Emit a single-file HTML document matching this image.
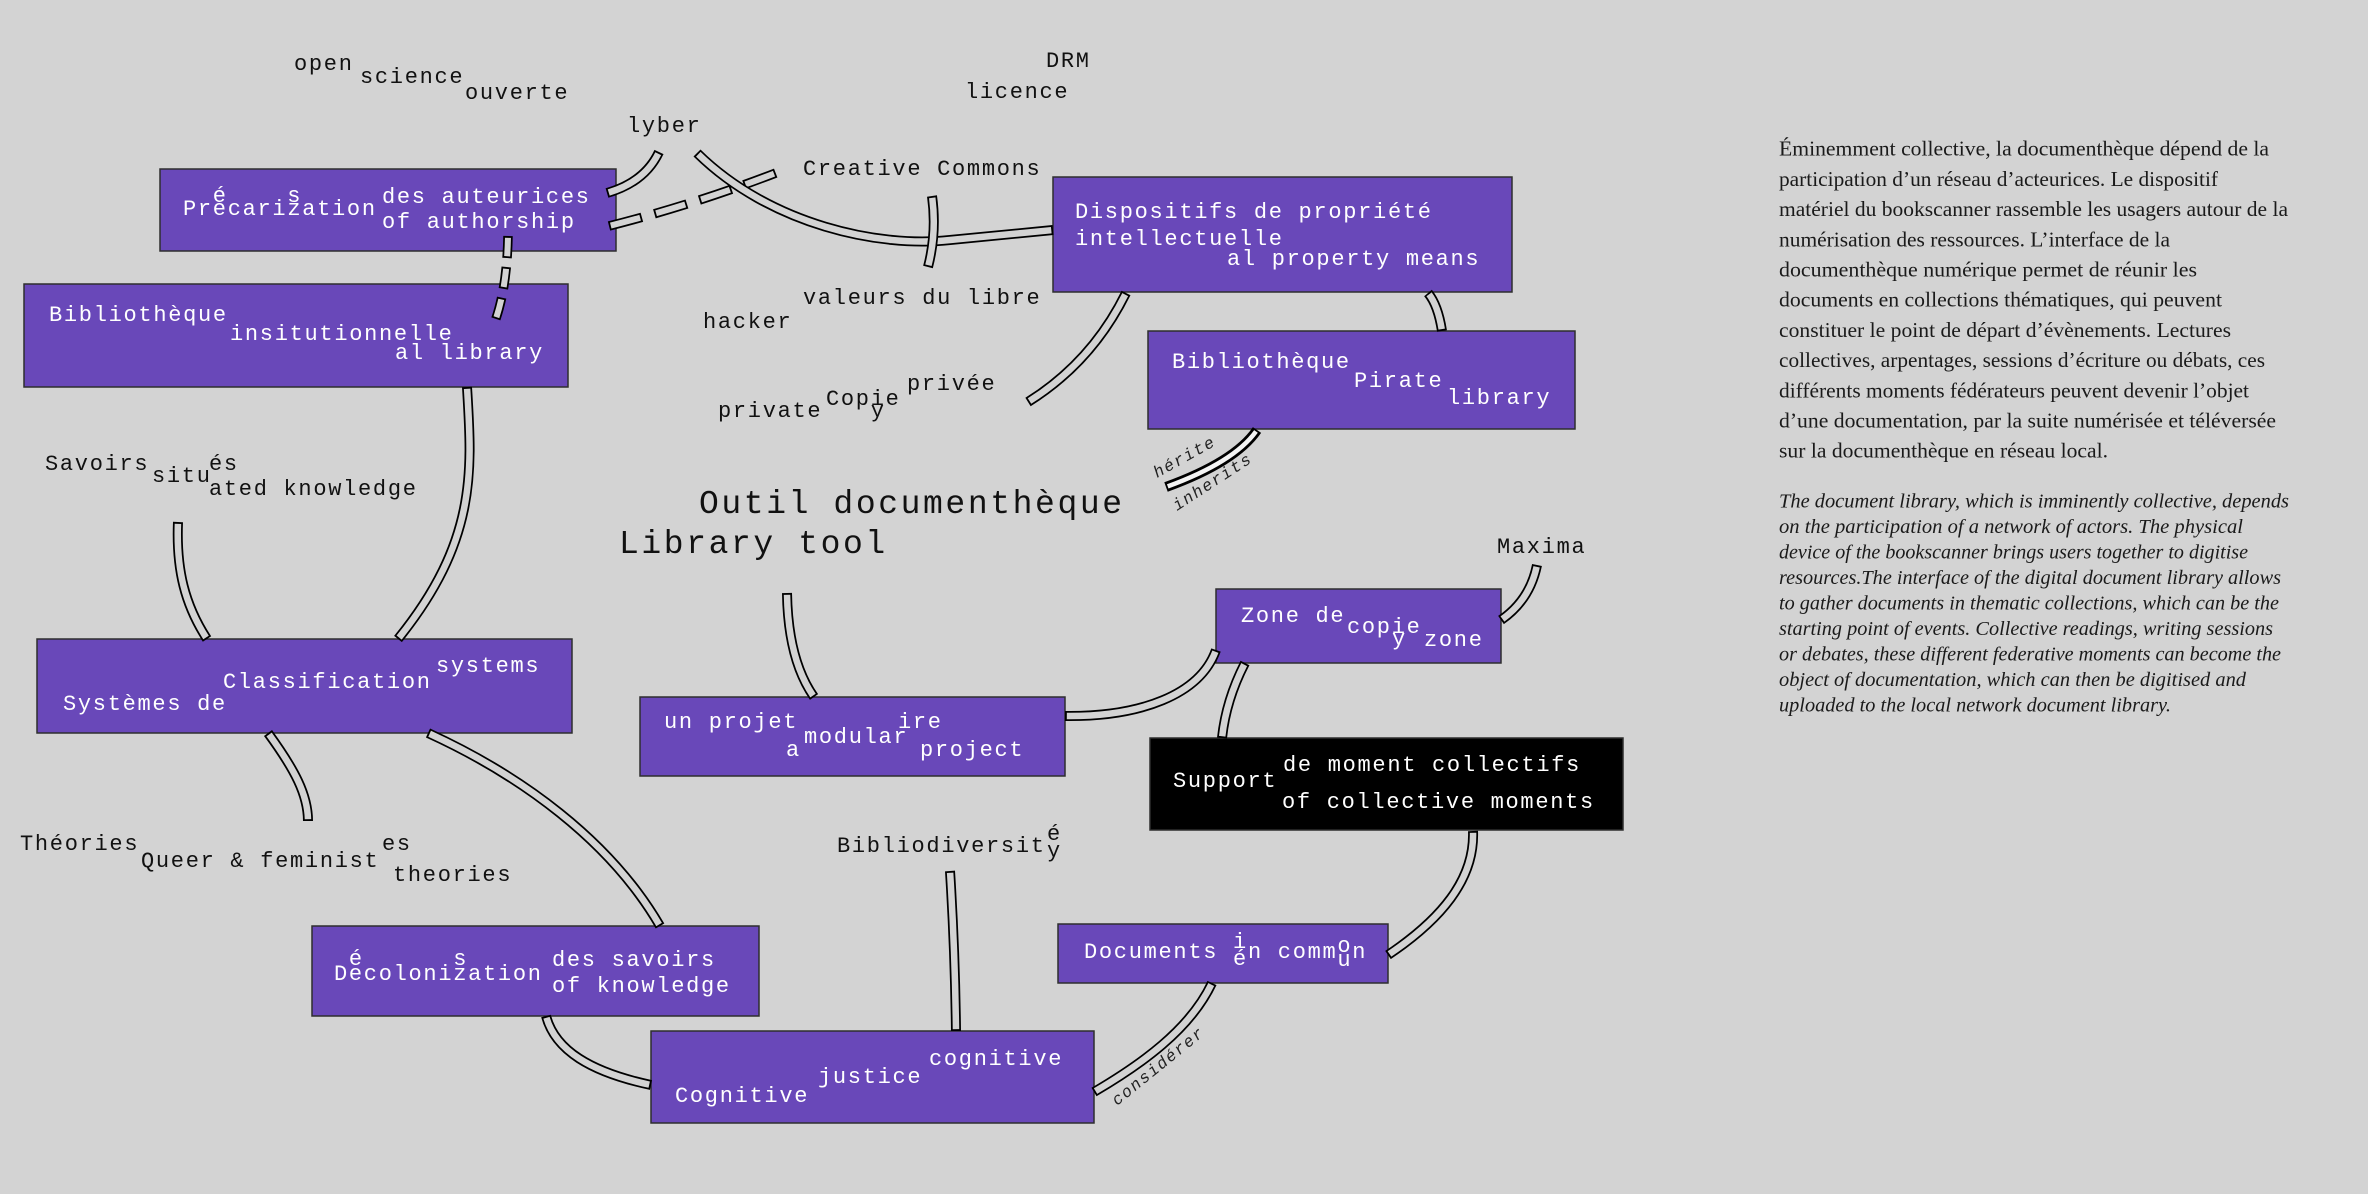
<!DOCTYPE html>
<html>
<head>
<meta charset="utf-8">
<style>
html,body{margin:0;padding:0;background:#d3d3d3;}
svg{display:block;}
.m{font-family:"Liberation Mono","DejaVu Sans Mono",monospace;font-size:22px;letter-spacing:1.7px;fill:#111;}
.w{fill:#fff;}
.t{font-family:"Liberation Mono","DejaVu Sans Mono",monospace;font-size:33px;letter-spacing:2.6px;fill:#111;}
.l{font-family:"Liberation Mono","DejaVu Sans Mono",monospace;font-size:16.5px;letter-spacing:1.5px;font-style:italic;fill:#222;}
.bx{fill:#6948b9;stroke:#2e2e2e;stroke-width:1.5;}
.bk{fill:#000;stroke:#2e2e2e;stroke-width:1.5;}
.o{fill:none;stroke:#000;stroke-width:10;}
.in{fill:none;stroke:#d3d3d3;stroke-width:6.5;}
.od{fill:none;stroke:#000;stroke-width:9.5;}
.ind{fill:none;stroke:#d3d3d3;stroke-width:6;}
.s1{font-family:"Liberation Serif","DejaVu Serif",serif;font-size:21.5px;fill:#1a1a1a;}
.s2{font-family:"Liberation Serif","DejaVu Serif",serif;font-size:20px;font-style:italic;fill:#1a1a1a;}
</style>
</head>
<body>
<svg width="2368" height="1194" viewBox="0 0 2368 1194" xmlns="http://www.w3.org/2000/svg">
<rect x="0" y="0" width="2368" height="1194" fill="#d3d3d3"/>

<!-- Boxes -->
<rect class="bx" x="160" y="169" width="456" height="82"/>
<rect class="bx" x="24" y="284" width="544" height="103"/>
<rect class="bx" x="1053" y="177" width="459" height="115"/>
<rect class="bx" x="1148" y="331" width="427" height="98"/>
<rect class="bx" x="37" y="639" width="535" height="94"/>
<rect class="bx" x="640" y="697" width="425" height="79"/>
<rect class="bx" x="1216" y="589" width="285" height="74"/>
<rect class="bk" x="1150" y="738" width="473" height="92"/>
<rect class="bx" x="312" y="926" width="447" height="90"/>
<rect class="bx" x="651" y="1031" width="443" height="92"/>
<rect class="bx" x="1058" y="924" width="330" height="59"/>

<!-- Box texts -->
<g class="m w">
<text x="183" y="215">Precarization</text>
<text x="212.8" y="202">é</text>
<text x="287.3" y="202">s</text>
<text x="382" y="203">des auteurices</text>
<text x="382" y="228">of authorship</text>

<text x="49" y="321">Bibliothèque</text>
<text x="230" y="340">insitutionnelle</text>
<text x="395" y="359">al library</text>

<text x="1075" y="218">Dispositifs de propriété</text>
<text x="1075" y="245">intellectuelle</text>
<text x="1227" y="265">al property means</text>

<text x="1172" y="368">Bibliothèque</text>
<text x="1354" y="387">Pirate</text>
<text x="1447" y="404">library</text>

<text x="63" y="710">Systèmes de</text>
<text x="223" y="688">Classification</text>
<text x="436" y="672">systems</text>

<text x="664" y="728">un projet</text>
<text x="804" y="743">modular</text>
<text x="898" y="728">ire</text>
<text x="786" y="756">a</text>
<text x="920" y="756">project</text>

<text x="1241" y="622">Zone de</text>
<text x="1347" y="633">copie</text>
<text x="1392" y="645">y</text>
<text x="1424" y="646">zone</text>

<text x="1173" y="787">Support</text>
<text x="1283" y="771">de moment collectifs</text>
<text x="1282" y="808">of collective moments</text>

<text x="334" y="980">Decolonization</text>
<text x="348.9" y="965">é</text>
<text x="453.2" y="965">s</text>
<text x="552" y="966">des savoirs</text>
<text x="552" y="992">of knowledge</text>

<text x="675" y="1102">Cognitive</text>
<text x="818" y="1083">justice</text>
<text x="929" y="1065">cognitive</text>

<text x="1084" y="958">Documents</text>
<text x="1233" y="948">i</text>
<text x="1233" y="965">é</text>
<text x="1248" y="958">n comm</text>
<text x="1337.4" y="952">o</text>
<text x="1337.4" y="966">u</text>
<text x="1352.3" y="958">n</text>
</g>

<!-- Free texts -->
<g class="m">
<text x="294" y="70">open</text>
<text x="360" y="83">science</text>
<text x="465" y="99">ouverte</text>
<text x="627" y="132">lyber</text>
<text x="1046" y="67">DRM</text>
<text x="965" y="98">licence</text>
<text x="803" y="175">Creative Commons</text>
<text x="803" y="304">valeurs du libre</text>
<text x="703" y="328">hacker</text>
<text x="907" y="390">privée</text>
<text x="826" y="405">Copie</text>
<text x="870.7" y="417">y</text>
<text x="718" y="417">private</text>
<text x="45" y="470">Savoirs</text>
<text x="152" y="482">situ</text>
<text x="209" y="470">és</text>
<text x="209" y="495">ated knowledge</text>
<text x="20" y="850">Théories</text>
<text x="141" y="867">Queer &amp; feminist</text>
<text x="382" y="850">es</text>
<text x="393" y="881">theories</text>
<text x="837" y="852">Bibliodiversit</text>
<text x="1047" y="840">é</text>
<text x="1047" y="857">y</text>
<text x="1497" y="553">Maxima</text>
</g>
<text class="t" x="699" y="513">Outil documenthèque</text>
<text class="t" x="619" y="553">Library tool</text>

<!-- Pipes -->
<g>
<path class="od" d="M609,226 Q700,203 786,169" stroke-dasharray="34 13"/>
<path class="ind" d="M609,226 Q700,203 786,169" stroke-dasharray="30.4 16.6" stroke-dashoffset="-1.8"/>
<path class="od" d="M508,236 Q507,290 494,324" stroke-dasharray="22 9"/>
<path class="ind" d="M508,236 Q507,290 494,324" stroke-dasharray="18.4 12.6" stroke-dashoffset="-1.8"/>

<path class="o" d="M659,152 Q645,182 607,193"/>
<path class="in" d="M659,152 Q645,182 607,193"/>
<path class="o" d="M697,153 C770,225 880,248 950,240 C990,236 1025,233 1053,230"/>
<path class="in" d="M697,153 C770,225 880,248 950,240 C990,236 1025,233 1053,230"/>
<path class="o" d="M932,196 Q937,232 928,267"/>
<path class="in" d="M932,196 Q937,232 928,267"/>
<path class="o" d="M467,387 C472,470 478,540 398,639"/>
<path class="in" d="M467,387 C472,470 478,540 398,639"/>
<path class="o" d="M178,522 C176,570 185,605 207,639"/>
<path class="in" d="M178,522 C176,570 185,605 207,639"/>
<path class="o" d="M268,733 C295,770 308,795 308,821"/>
<path class="in" d="M268,733 C295,770 308,795 308,821"/>
<path class="o" d="M428,733 C520,775 610,840 660,926"/>
<path class="in" d="M428,733 C520,775 610,840 660,926"/>
<path class="o" d="M546,1016 C555,1050 590,1072 651,1085"/>
<path class="in" d="M546,1016 C555,1050 590,1072 651,1085"/>
<path class="o" d="M950,871 Q955,950 956,1031"/>
<path class="in" d="M950,871 Q955,950 956,1031"/>
<path class="o" d="M1094,1092 C1140,1065 1190,1030 1212,983"/>
<path class="in" d="M1094,1092 C1140,1065 1190,1030 1212,983"/>
<path class="o" d="M1388,955 C1440,920 1475,880 1473,831"/>
<path class="in" d="M1388,955 C1440,920 1475,880 1473,831"/>
<path class="o" d="M1245,663 Q1226,700 1222,738"/>
<path class="in" d="M1245,663 Q1226,700 1222,738"/>
<path class="o" d="M1065,716 C1140,717 1200,695 1216,650"/>
<path class="in" d="M1065,716 C1140,717 1200,695 1216,650"/>
<path class="o" d="M1537,565 Q1530,600 1501,620"/>
<path class="in" d="M1537,565 Q1530,600 1501,620"/>
<path class="o" d="M787,593 Q788,660 814,697"/>
<path class="in" d="M787,593 Q788,660 814,697"/>
<path class="o" d="M1126,293 Q1092,362 1028,402"/>
<path class="in" d="M1126,293 Q1092,362 1028,402"/>
<path class="o" d="M1428,293 Q1438,305 1442,331"/>
<path class="in" d="M1428,293 Q1438,305 1442,331"/>
<path class="o" d="M1257,430 Q1235,462 1166,487"/>
<path class="in" d="M1257,430 Q1235,462 1166,487" style="stroke:#f4f4f4;stroke-width:4.5"/>
</g>

<!-- Connector labels -->
<text class="l" transform="translate(1157,478) rotate(-29)">hérite</text>
<text class="l" transform="translate(1177,511) rotate(-33)">inherits</text>
<text class="l" transform="translate(1117,1106) rotate(-39)">considérer</text>

<!-- Right column text -->
<g class="s1">
<text x="1779" y="155.7" textLength="490" lengthAdjust="spacingAndGlyphs">Éminemment collective, la documenthèque dépend de la</text>
<text x="1779" y="185.9" textLength="439" lengthAdjust="spacingAndGlyphs">participation d’un réseau d’acteurices. Le dispositif</text>
<text x="1779" y="216.1" textLength="509" lengthAdjust="spacingAndGlyphs">matériel du bookscanner rassemble les usagers autour de la</text>
<text x="1779" y="246.3" textLength="391" lengthAdjust="spacingAndGlyphs">numérisation des ressources. L’interface de la</text>
<text x="1779" y="276.5" textLength="418" lengthAdjust="spacingAndGlyphs">documenthèque numérique permet de réunir les</text>
<text x="1779" y="306.7" textLength="443" lengthAdjust="spacingAndGlyphs">documents en collections thématiques, qui peuvent</text>
<text x="1779" y="336.9" textLength="452" lengthAdjust="spacingAndGlyphs">constituer le point de départ d’évènements. Lectures</text>
<text x="1779" y="367.1" textLength="486" lengthAdjust="spacingAndGlyphs">collectives, arpentages, sessions d’écriture ou débats, ces</text>
<text x="1779" y="397.3" textLength="470" lengthAdjust="spacingAndGlyphs">différents moments fédérateurs peuvent devenir l’objet</text>
<text x="1779" y="427.5" textLength="497" lengthAdjust="spacingAndGlyphs">d’une documentation, par la suite numérisée et téléversée</text>
<text x="1779" y="457.7" textLength="329" lengthAdjust="spacingAndGlyphs">sur la documenthèque en réseau local.</text>
</g>
<g class="s2">
<text x="1779" y="507.3" textLength="510" lengthAdjust="spacingAndGlyphs">The document library, which is imminently collective, depends</text>
<text x="1779" y="532.9" textLength="464" lengthAdjust="spacingAndGlyphs">on the participation of a network of actors. The physical</text>
<text x="1779" y="558.4" textLength="469" lengthAdjust="spacingAndGlyphs">device of the bookscanner brings users together to digitise</text>
<text x="1779" y="584.0" textLength="502" lengthAdjust="spacingAndGlyphs">resources.The interface of the digital document library allows</text>
<text x="1779" y="609.5" textLength="500" lengthAdjust="spacingAndGlyphs">to gather documents in thematic collections, which can be the</text>
<text x="1779" y="635.1" textLength="494" lengthAdjust="spacingAndGlyphs">starting point of events. Collective readings, writing sessions</text>
<text x="1779" y="660.6" textLength="502" lengthAdjust="spacingAndGlyphs">or debates, these different federative moments can become the</text>
<text x="1779" y="686.2" textLength="467" lengthAdjust="spacingAndGlyphs">object of documentation, which can then be digitised and</text>
<text x="1779" y="711.7" textLength="392" lengthAdjust="spacingAndGlyphs">uploaded to the local network document library.</text>
</g>
</svg>
<script>
document.querySelectorAll('path.in').forEach(function(p){
  var L=p.getTotalLength(), e=1.8;
  p.setAttribute('stroke-dasharray','0 '+e+' '+(L-2*e)+' '+(L+10));
});
</script>
</body>
</html>
